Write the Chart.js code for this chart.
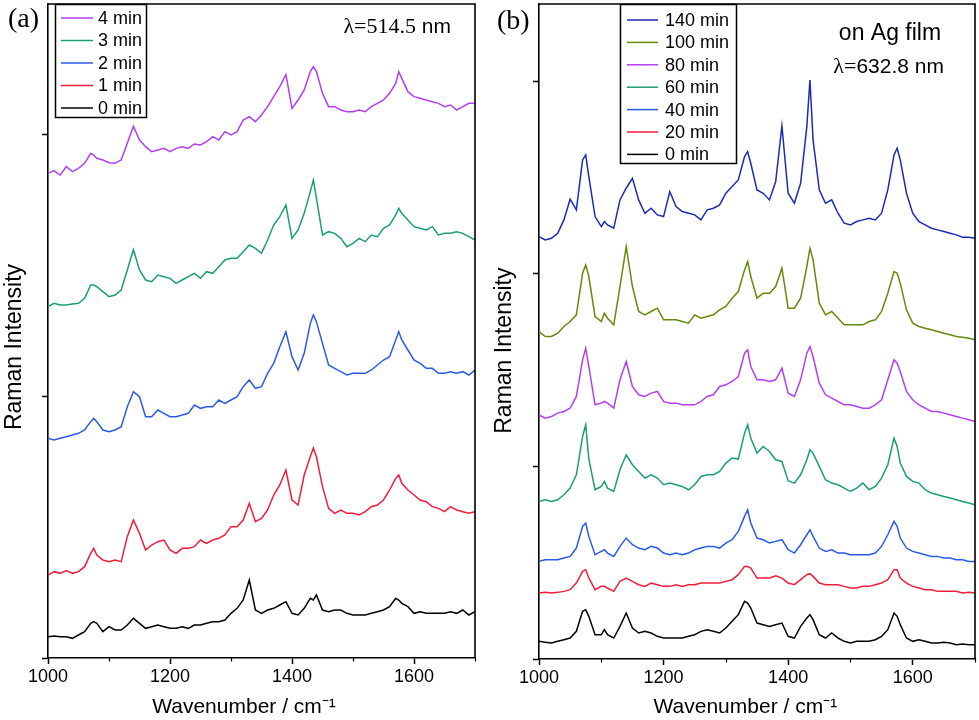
<!DOCTYPE html>
<html><head><meta charset="utf-8">
<script src="https://cdn.jsdelivr.net/npm/chart.js@4/dist/chart.umd.min.js"></script>
<style>
html,body{margin:0;padding:0;background:#fff;}
#wrap{position:relative;width:979px;height:720px;background:#fff;}
canvas{position:absolute;top:0;}
</style></head><body>
<div id="wrap"><canvas id="ca" width="490" height="720" style="left:0"></canvas><canvas id="cb" width="489" height="720" style="left:490px"></canvas></div>
<script>
// ---------- Panel (a): λ = 514.5 nm ----------
const wavenumbersA = [1000,1010,1020,1030,1040,1050,1060,1070,1075,1080,1090,1100,1110,1120,1130,1140,1150,1160,1170,1180,1190,1200,1210,1220,1230,1240,1250,1260,1270,1280,1290,1300,1310,1320,1330,1340,1350,1360,1370,1380,1390,1400,1410,1420,1430,1435,1440,1450,1460,1470,1480,1490,1500,1510,1520,1530,1540,1550,1560,1570,1575,1580,1590,1600,1610,1620,1630,1640,1650,1660,1670,1680,1690,1700];
const labelsA = ['4 min','3 min','2 min','1 min','0 min'];
const colorsA = ['#b23ff0','#1a9e72','#2b5ae8','#f01c3a','#000000'];
const a4min = [1454,1462,1449,1474,1459,1469,1484,1514,1509,1499,1494,1486,1484,1494,1544,1595,1554,1534,1519,1524,1529,1519,1529,1534,1529,1542,1539,1549,1564,1554,1579,1569,1579,1614,1624,1609,1629,1654,1684,1714,1750,1649,1674,1704,1759,1774,1759,1694,1654,1654,1644,1639,1639,1644,1639,1654,1664,1674,1694,1724,1759,1739,1699,1684,1679,1674,1669,1664,1654,1659,1644,1654,1664,1664];
const a3min = [1054,1064,1059,1059,1062,1064,1079,1119,1119,1114,1099,1084,1089,1104,1164,1225,1164,1134,1129,1149,1144,1139,1124,1134,1144,1154,1139,1159,1154,1174,1194,1199,1199,1219,1239,1229,1214,1254,1299,1324,1359,1259,1284,1334,1399,1434,1380,1269,1279,1274,1259,1234,1244,1259,1249,1269,1264,1289,1299,1329,1349,1334,1314,1294,1289,1284,1294,1269,1274,1274,1279,1274,1264,1254];
const a2min = [659,654,659,664,669,674,684,709,719,709,684,679,684,694,754,799,784,724,724,744,734,724,724,729,734,759,749,754,754,774,764,774,784,814,834,809,814,854,884,934,979,904,864,914,1004,1029,1009,944,879,869,859,849,854,854,854,864,879,894,904,954,979,954,924,894,884,869,869,854,854,859,854,859,849,864];
const a1min = [249,259,254,262,254,259,274,314,329,309,294,289,294,289,364,414,374,324,339,349,354,324,314,329,329,334,354,344,354,359,369,394,394,414,464,409,419,444,489,519,564,474,459,549,604,630,604,514,449,434,444,434,434,429,439,454,459,474,504,539,549,524,504,489,474,469,454,449,439,454,444,439,434,439];
const a0min = [64,66,64,64,59,69,79,104,109,104,79,94,84,84,99,119,104,89,94,99,94,89,89,94,89,99,99,104,109,109,114,134,149,174,234,144,134,144,149,159,169,134,129,149,179,174,189,144,139,144,144,134,129,129,129,134,139,144,154,179,174,164,154,134,139,134,134,134,134,139,134,144,129,139];
const yTicksA = [0,786,1572];
const yMaxA = 1962;

// ---------- Panel (b): on Ag film, λ = 632.8 nm ----------
const wavenumbersB = [1000,1010,1020,1030,1040,1050,1060,1070,1075,1080,1090,1100,1105,1110,1120,1130,1140,1150,1160,1170,1180,1190,1200,1210,1220,1230,1240,1250,1260,1270,1280,1290,1300,1310,1320,1330,1335,1340,1350,1360,1370,1380,1390,1400,1410,1420,1430,1435,1440,1450,1460,1470,1480,1490,1500,1510,1520,1530,1540,1550,1560,1570,1575,1580,1590,1600,1610,1620,1630,1640,1650,1660,1670,1680,1690,1700];
const labelsB = ['140 min','100 min','80 min','60 min','40 min','20 min','0 min'];
const colorsB = ['#1c2bb4','#638a0c','#b23ff0','#1a9e72','#2b5ae8','#f01c3a','#000000'];
const b140min = [1268,1258,1263,1278,1318,1380,1348,1498,1513,1448,1328,1298,1313,1303,1293,1378,1413,1443,1378,1338,1353,1333,1328,1403,1358,1343,1338,1333,1318,1348,1353,1363,1398,1418,1438,1508,1523,1488,1408,1398,1378,1433,1600,1398,1368,1428,1598,1738,1558,1408,1368,1378,1338,1308,1303,1313,1318,1323,1318,1338,1408,1513,1533,1498,1398,1338,1313,1303,1293,1288,1283,1278,1273,1266,1266,1263];
const b100min = [983,968,968,978,998,1013,1033,1158,1183,1148,1028,1013,1038,1023,1003,1118,1238,1118,1043,1033,1043,1053,1018,1018,1018,1013,1008,1033,1023,1028,1033,1048,1058,1083,1103,1168,1193,1148,1083,1098,1098,1118,1173,1053,1053,1083,1178,1233,1198,1068,1033,1043,1023,1003,1003,1003,1003,1013,1018,1043,1098,1163,1158,1128,1048,1008,998,993,988,983,978,973,968,966,963,958];
const b80min = [733,723,728,738,743,753,788,898,933,878,763,768,773,768,753,838,893,818,793,788,798,803,773,768,768,763,763,763,773,788,793,818,823,833,848,918,928,878,838,838,833,838,873,798,788,838,918,938,908,828,793,783,773,763,763,758,753,753,763,778,838,898,888,863,803,778,763,753,743,743,738,733,728,723,718,713];
const b60min = [473,478,473,478,493,513,553,668,703,600,508,518,533,513,503,568,613,583,563,543,553,543,523,528,523,518,508,523,548,553,553,563,588,603,600,678,703,663,618,638,623,598,593,535,528,553,598,628,618,578,538,528,523,513,503,513,528,508,518,543,583,663,638,588,548,533,528,508,498,493,488,483,478,473,468,463];
const b40min = [293,298,298,298,303,308,333,398,408,368,313,323,328,318,308,338,363,343,333,328,338,333,318,313,318,313,318,328,333,338,338,333,348,358,383,428,448,408,363,358,348,353,358,328,318,343,373,388,368,333,323,328,318,318,313,313,313,313,318,338,373,413,398,363,333,323,318,313,308,308,303,303,298,298,293,293];
const b20min = [198,200,198,200,203,208,228,263,268,243,208,218,218,213,203,233,243,233,223,218,228,223,218,218,223,218,223,223,228,228,228,228,233,238,253,278,278,273,243,243,243,250,243,228,223,238,253,256,248,228,223,223,223,218,213,213,218,218,223,228,238,268,268,243,228,218,213,208,208,203,203,203,203,198,200,198];
const b0min = [53,50,48,53,58,63,83,143,148,128,73,73,88,73,63,98,138,93,78,83,78,68,63,63,63,63,68,73,83,88,83,78,93,113,133,173,168,153,108,103,98,103,108,68,63,98,123,133,118,73,63,78,63,53,48,53,53,53,58,68,88,138,128,103,63,53,58,53,48,48,50,48,43,45,43,43];
const yTicksB = [0,578,1156,1734];
const yMaxB = 1966;

// shared axis ticks
const xMajorTicks = [1000,1200,1400,1600];
const xMinorTicks = [1100,1300,1500,1700];

const SANS = "'Liberation Sans', Arial, sans-serif";
const SERIF = "'Liberation Serif', 'Times New Roman', serif";

const decor = {
  id: 'decor',
  afterDraw(chart, args, o) {
    const ctx = chart.ctx, a = chart.chartArea, xs = chart.scales.x;
    ctx.save();
    ctx.strokeStyle = '#000';
    ctx.lineWidth = 1.6;
    ctx.beginPath();
    ctx.moveTo(a.left, a.top); ctx.lineTo(a.right, a.top); ctx.lineTo(a.right, a.bottom);
    ctx.stroke();
    ctx.lineWidth = 1.2;
    xMinorTicks.forEach(v => {
      const px = Math.round(xs.getPixelForValue(v)) + 0.5;
      ctx.beginPath(); ctx.moveTo(px, a.bottom); ctx.lineTo(px, a.bottom + 3.5); ctx.stroke();
    });
    // legend
    const L = o.legend;
    const bx = a.left + L.dx, by = a.top;
    ctx.fillStyle = '#fff';
    ctx.fillRect(bx, by, L.w, L.h);
    ctx.lineWidth = 1.5;
    ctx.strokeRect(bx + 0.5, by + 0.5, L.w, L.h);
    ctx.font = '18px ' + SANS;
    ctx.textBaseline = 'middle';
    ctx.textAlign = 'left';
    chart.data.datasets.forEach((ds, i) => {
      const y = by + L.first + i * L.step;
      ctx.strokeStyle = ds.borderColor; ctx.lineWidth = 1.5;
      ctx.beginPath(); ctx.moveTo(bx + L.x0, y); ctx.lineTo(bx + L.x1, y); ctx.stroke();
      ctx.fillStyle = '#000';
      ctx.fillText(ds.label, bx + L.tx, y + 1);
    });
    // annotations
    ctx.textBaseline = 'alphabetic';
    o.texts.forEach(t => {
      let total = 0;
      t.parts.forEach(p => { ctx.font = p.font; p.w = ctx.measureText(p.text).width; total += p.w; });
      let x = t.align === 'right' ? t.x - total : (t.align === 'center' ? t.x - total / 2 : t.x);
      ctx.fillStyle = '#000'; ctx.textAlign = 'left';
      t.parts.forEach(p => { ctx.font = p.font; ctx.fillText(p.text, x, t.y); x += p.w; });
    });
    ctx.restore();
  }
};

function makeChart(id, wn, series, labels, colors, yTicks, yMax, yWidth, xHeight, padRight, xTitle, yTitle, decorOpts) {
  const datasets = series.map((vals, i) => ({
    label: labels[i],
    data: wn.map((w, j) => ({x: w, y: vals[j]})),
    borderColor: colors[i],
    borderWidth: 1.5,
    pointRadius: 0,
    tension: 0,
    fill: false
  }));
  return new Chart(document.getElementById(id), {
    type: 'line',
    data: {datasets},
    plugins: [decor],
    options: {
      responsive: false,
      animation: false,
      events: [],
      layout: {padding: {left: 0, right: padRight, top: 4, bottom: 0}},
      plugins: {legend: {display: false}, tooltip: {enabled: false}, decor: decorOpts},
      scales: {
        x: {
          type: 'linear', min: 1000, max: 1700,
          afterBuildTicks: s => { s.ticks = xMajorTicks.map(v => ({value: v})); },
          afterFit: s => { s.height = xHeight; },
          ticks: {color: '#000', font: {family: SANS, size: 18}, padding: 2, maxRotation: 0, autoSkip: false, callback: v => String(v)},
          grid: {drawOnChartArea: false, drawTicks: true, tickLength: 6, color: '#000', tickWidth: 1.5},
          border: {display: true, color: '#000', width: 1.6},
          title: {display: true, text: xTitle, color: '#000', font: {family: SANS, size: 21}, padding: {top: 0, bottom: 0}}
        },
        y: {
          type: 'linear', min: 0, max: yMax,
          afterBuildTicks: s => { s.ticks = yTicks.map(v => ({value: v})); },
          afterFit: s => { s.width = yWidth; },
          ticks: {display: false},
          grid: {drawOnChartArea: false, drawTicks: true, tickLength: 6, color: '#000', tickWidth: 1.5},
          border: {display: true, color: '#000', width: 1.6},
          title: {display: true, text: yTitle, color: '#000', font: {family: SANS, size: 23}, padding: {top: 1, bottom: 0}}
        }
      }
    }
  });
}

makeChart('ca', wavenumbersA, [a4min, a3min, a2min, a1min, a0min], labelsA, colorsA, yTicksA, yMaxA, 48, 62, 15,
  'Wavenumber / cm\u207B\u00B9      ', 'Raman Intensity     ', {
  legend: {dx: 7, w: 91, h: 113, first: 14, step: 22.5, x0: 6, x1: 38, tx: 43},
  texts: [
    {x: 8, y: 27, align: 'left', parts: [{text: '(a)', font: '28px ' + SERIF}]},
    {x: 451, y: 33, align: 'right', parts: [{text: '\u03BB=514.5', font: '22px ' + SERIF}, {text: ' nm', font: '21px ' + SANS}]}
  ]
});
makeChart('cb', wavenumbersB, [b140min, b100min, b80min, b60min, b40min, b20min, b0min], labelsB, colorsB, yTicksB, yMaxB, 49, 61, 4,
  'Wavenumber / cm\u207B\u00B9    ', 'Raman Intensity      ', {
  legend: {dx: 81, w: 116, h: 159, first: 16, step: 22.4, x0: 7, x1: 38, tx: 45},
  texts: [
    {x: 7, y: 29, align: 'left', parts: [{text: '(b)', font: '28px ' + SERIF}]},
    {x: 400, y: 40, align: 'center', parts: [{text: 'on Ag film', font: '23px ' + SANS}]},
    {x: 454, y: 73, align: 'right', parts: [{text: '\u03BB=', font: '22px ' + SERIF}, {text: '632.8 nm', font: '21px ' + SANS}]}
  ]
});
</script>
</body></html>
